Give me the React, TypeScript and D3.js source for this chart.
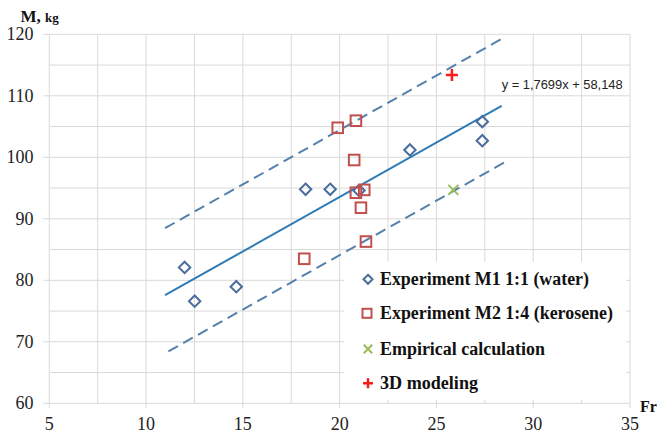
import React from "react";
import * as d3 from "d3";

const W = 658;
const H = 434;

// Experiment M1 1:1 (water)
const m1Fr = [11.99, 12.51, 14.66, 18.24, 19.51, 21.0, 23.63, 27.37, 27.37];
const m1M = [82.1, 76.6, 78.96, 94.8, 94.8, 94.6, 101.2, 105.8, 102.7];
// Experiment M2 1:4 (kerosene)
const m2Fr = [18.17, 19.9, 20.84, 20.75, 20.84, 21.27, 21.1, 21.36];
const m2M = [83.5, 104.8, 105.95, 99.56, 94.24, 94.7, 91.8, 86.3];
// Empirical calculation
const empFr = [25.87];
const empM = [94.7];
// 3D modeling
const modFr = [25.8];
const modM = [113.4];

// trend line y = 1,7699x + 58,148
const slope = 1.7699;
const intercept = 58.148;
const trendRange = [10.98, 28.37];
const upperOffset = 10.9;
const upperRange = [10.98, 28.37];
const lowerOffset = -9.45;
const lowerRange = [11.15, 28.63];

const xTicks = [5, 10, 15, 20, 25, 30, 35];
const yTicks = [60, 70, 80, 90, 100, 110, 120];
const xGrid = d3.range(5, 35.01, 2.5);
const yGrid = d3.range(60, 120.01, 5);

const legendItems = [
  "Experiment M1 1:1 (water)",
  "Experiment M2 1:4 (kerosene)",
  "Empirical calculation",
  "3D modeling",
];
const legendWidths = [209, 233, 165, 98];

const BLUE_PT = "#4a6c9c";
const RED_PT = "#c0504d";
const GREEN = "#9bbb59";
const RED = "#ff1a1a";
const TREND = "#2f7bb6";
const DASH = "#5580ab";
const GRID = "#d9d9d9";

const SERIF = '"Liberation Serif", "Times New Roman", "DejaVu Serif", serif';
const SANS = '"Liberation Sans", Arial, sans-serif';

const x = d3.scaleLinear().domain([5, 35]).range([49.3, 630]);
const y = d3.scaleLinear().domain([60, 120]).range([403.3, 34.3]);

const Diamond = ({ cx, cy, r, color }: any) => (
  <path
    d={`M${cx},${cy - r}L${cx + r},${cy}L${cx},${cy + r}L${cx - r},${cy}Z`}
    fill="none"
    stroke={color}
    strokeWidth={2}
  />
);
const Square = ({ cx, cy, r, color }: any) => (
  <rect x={cx - r} y={cy - r} width={2 * r} height={2 * r} fill="none" stroke={color} strokeWidth={2} />
);
const Cross = ({ cx, cy, r, color }: any) => (
  <path
    d={`M${cx - r},${cy - r}L${cx + r},${cy + r}M${cx - r},${cy + r}L${cx + r},${cy - r}`}
    stroke={color}
    strokeWidth={2}
  />
);
const Plus = ({ cx, cy, r, color }: any) => (
  <path d={`M${cx - r},${cy}L${cx + r},${cy}M${cx},${cy - r}L${cx},${cy + r}`} stroke={color} strokeWidth={2.5} />
);

const line = d3
  .line<number>()
  .x((d: any) => x(d[0]))
  .y((d: any) => y(d[1]));

const seg = (range: number[], off: number) =>
  line(range.map((f) => [f, slope * f + intercept + off] as any) as any) as string;

export default function App() {
  const serifStyle = { fontFamily: SERIF };
  return (
    <svg width={W} height={H} style={{ position: "absolute", left: 0, top: 0, background: "#fff" }}>
      <rect x={0} y={0} width={W} height={H} fill="#fff" />
      {/* grid */}
      {xGrid.map((v) => (
        <line key={"gx" + v} x1={x(v)} x2={x(v)} y1={y(120)} y2={y(60)} stroke={GRID} strokeWidth={1} />
      ))}
      {yGrid.map((v) => (
        <line
          key={"gy" + v}
          x1={yTicks.includes(v) ? x(5) - 6 : x(5)}
          x2={x(35)}
          y1={y(v)}
          y2={y(v)}
          stroke={GRID}
          strokeWidth={1}
        />
      ))}
      {xTicks.map((v) => (
        <line key={"tx" + v} x1={x(v)} x2={x(v)} y1={y(60)} y2={y(60) + 5} stroke={GRID} strokeWidth={1} />
      ))}
      {/* tick labels */}
      {yTicks.map((v) => (
        <text key={"ly" + v} x={33.5} y={y(v) + 6} textAnchor="end" fontSize={18} fill="#222" style={serifStyle}>
          {v}
        </text>
      ))}
      {xTicks.map((v) => (
        <text key={"lx" + v} x={x(v)} y={430} textAnchor="middle" fontSize={18} fill="#222" style={serifStyle}>
          {v}
        </text>
      ))}
      {/* axis titles */}
      <text x={20.5} y={22} fontWeight="bold" fill="#111" style={serifStyle}>
        <tspan fontSize={17}>M, </tspan>
        <tspan fontSize={13}>kg</tspan>
      </text>
      <text x={640} y={412} fontWeight="bold" fontSize={16} fill="#111" style={serifStyle}>
        Fr
      </text>
      {/* trend + bands */}
      <path d={seg(upperRange, upperOffset)} stroke={DASH} strokeWidth={2} strokeDasharray="11,6" fill="none" />
      <path d={seg(lowerRange, lowerOffset)} stroke={DASH} strokeWidth={2} strokeDasharray="11,6" fill="none" />
      <path d={seg(trendRange, 0)} stroke={TREND} strokeWidth={2} fill="none" />
      <text
        x={501.7}
        y={89}
        fontSize={12}
        fill="#222"
        textLength={121}
        lengthAdjust="spacingAndGlyphs"
        style={{ fontFamily: SANS }}
      >
        y = 1,7699x + 58,148
      </text>
      {/* points */}
      {m1Fr.map((f, i) => (
        <Diamond key={"d" + i} cx={x(f)} cy={y(m1M[i])} r={5.7} color={BLUE_PT} />
      ))}
      {m2Fr.map((f, i) => (
        <Square key={"s" + i} cx={x(f)} cy={y(m2M[i])} r={5.3} color={RED_PT} />
      ))}
      {empFr.map((f, i) => (
        <Cross key={"c" + i} cx={x(f)} cy={y(empM[i])} r={5} color={GREEN} />
      ))}
      {modFr.map((f, i) => (
        <Plus key={"p" + i} cx={x(f)} cy={y(modM[i])} r={6} color={RED} />
      ))}
      {/* legend */}
      <rect x={344} y={262} width={282} height={138} fill="#fff" />
      {legendItems.map((t, i) => {
        const cy = [279.3, 313.3, 349, 383.3][i];
        const cx = 368;
        return (
          <g key={"lg" + i}>
            {i === 0 && <Diamond cx={cx} cy={cy} r={4.5} color={BLUE_PT} />}
            {i === 1 && <Square cx={cx - 1} cy={cy} r={4.5} color={RED_PT} />}
            {i === 2 && <Cross cx={cx} cy={cy} r={4.2} color={GREEN} />}
            {i === 3 && <Plus cx={cx} cy={cy} r={5} color={RED} />}
            <text
              x={380}
              y={cy + 6}
              fontSize={18}
              fontWeight="bold"
              fill="#111"
              textLength={legendWidths[i]}
              lengthAdjust="spacingAndGlyphs"
              style={serifStyle}
            >
              {t}
            </text>
          </g>
        );
      })}
    </svg>
  );
}
